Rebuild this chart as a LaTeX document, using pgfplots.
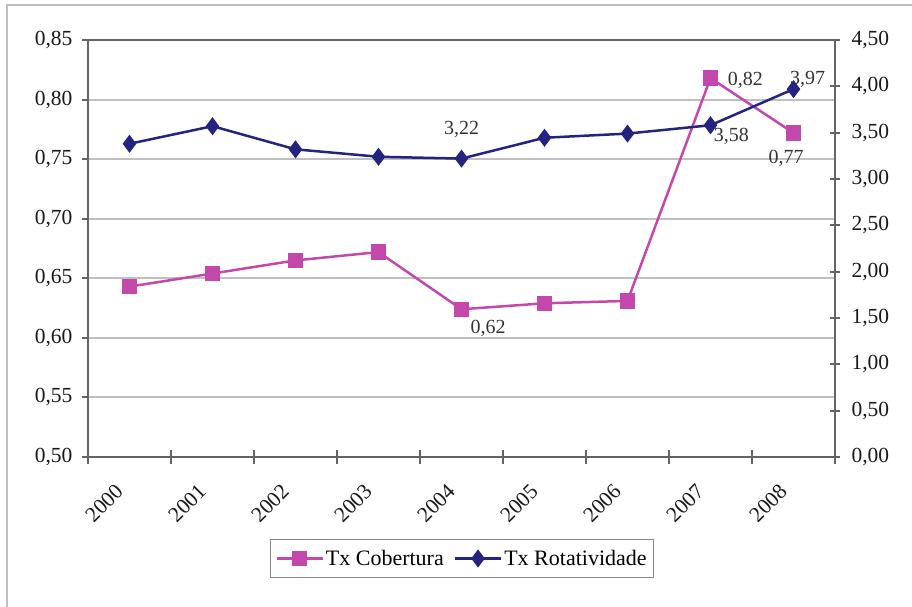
\documentclass[border=0pt]{standalone}
\usepackage{pgfplots}
\pgfplotsset{compat=1.18}
\usepackage{fontspec}
\setmainfont{Liberation Serif}
\definecolor{cobcol}{RGB}{196,72,172}
\definecolor{rotcol}{RGB}{36,36,128}
\definecolor{axcol}{RGB}{100,100,100}
\definecolor{gridcol}{RGB}{192,192,192}
\begin{document}
\begin{tikzpicture}[x=1pt,y=1pt]
\path[use as bounding box] (0,0) rectangle (912,607);
\draw[gridcol, line width=2pt] (7,0) -- (7,602) -- (912,602);
\begin{axis}[
  at={(88pt,150pt)}, anchor=south west,
  width=747pt, height=417pt, scale only axis,
  xmin=-0.5, xmax=8.5, ymin=0.5, ymax=0.85,
  tick pos=left,
  xtick={0,...,8},
  xticklabels={2000,2001,2002,2003,2004,2005,2006,2007,2008},
  minor xtick={-0.5,0.5,...,8.5},
  ytick={0.5,0.55,...,0.86},
  major x tick style={draw=none},
  minor x tick style={axcol, line width=2pt},
  minor tick length=14pt,
  xtick align=center,
  ytick align=outside,
  major tick length=6pt,
  y tick style={axcol, line width=2pt},
  axis line style={axcol, line width=2.5pt},
  ymajorgrids, grid style={gridcol, line width=2pt},
  /pgf/number format/.cd, fixed, fixed zerofill, precision=2, use comma, assume math mode=true,
  /pgfplots/.cd,
  ticklabel style={font=\rmfamily\fontsize{21.5}{24}\selectfont, text=black!90},
  yticklabel style={xshift=-6pt},
  xticklabel style={xshift=-10pt, yshift=-28pt, rotate=45, anchor=east, inner sep=0pt},
  legend style={at={(0.5007,-0.2434)}, anchor=center, legend columns=2,
    draw=gridcol!70!black, line width=1pt,
    font=\rmfamily\fontsize{22}{24}\selectfont, inner xsep=5pt, inner ysep=9pt,
    /tikz/every even column/.append style={column sep=8pt}},
  legend image code/.code={
    \draw[#1, mark repeat=2, mark phase=2] plot coordinates {(0pt,0pt) (23pt,0pt) (46pt,0pt)};},
]
\addplot[cobcol, line width=2.5pt, mark=square*, mark size=6.5pt, mark options={solid, fill=cobcol}]
coordinates {(0,0.643) (1,0.654) (2,0.665) (3,0.672) (4,0.624) (5,0.629) (6,0.631) (7,0.818) (8,0.772)};
\addlegendentry{Tx Cobertura}
\addlegendimage{rotcol, line width=2.5pt, mark=diamond*, mark size=7pt, mark options={solid, fill=rotcol}}
\addlegendentry{Tx Rotatividade}
\node[font=\rmfamily\fontsize{20}{24}\selectfont, text=black!80] at (axis cs:4.32,0.608) {0,62};
\node[font=\rmfamily\fontsize{20}{24}\selectfont, text=black!80] at (axis cs:7.42,0.8164) {0,82};
\node[font=\rmfamily\fontsize{20}{24}\selectfont, text=black!80] at (axis cs:7.91,0.751) {0,77};
\end{axis}
\begin{axis}[
  at={(88pt,150pt)}, anchor=south west,
  width=747pt, height=417pt, scale only axis,
  xmin=-0.5, xmax=8.5, ymin=0, ymax=4.5,
  axis x line=none, axis y line*=right,
  ytick={0,0.5,...,4.6},
  ytick align=center,
  major tick length=10pt,
  y tick style={axcol, line width=2pt},
  axis line style={axcol, line width=2.5pt},
  /pgf/number format/.cd, fixed, fixed zerofill, precision=2, use comma, assume math mode=true,
  /pgfplots/.cd,
  ticklabel style={font=\rmfamily\fontsize{21.5}{24}\selectfont, text=black!90},
  yticklabel style={xshift=8pt},
]
\addplot[rotcol, line width=2.5pt, mark=diamond*, mark size=7pt, mark options={solid, fill=rotcol}]
coordinates {(0,3.38) (1,3.57) (2,3.32) (3,3.24) (4,3.22) (5,3.445) (6,3.49) (7,3.58) (8,3.97)};
\node[font=\rmfamily\fontsize{20}{24}\selectfont, text=black!80] at (axis cs:4,3.53) {3,22};
\node[font=\rmfamily\fontsize{20}{24}\selectfont, text=black!80] at (axis cs:7.25,3.464) {3,58};
\node[font=\rmfamily\fontsize{20}{24}\selectfont, text=black!80] at (axis cs:8.17,4.07) {3,97};
\end{axis}
\end{tikzpicture}
\end{document}
